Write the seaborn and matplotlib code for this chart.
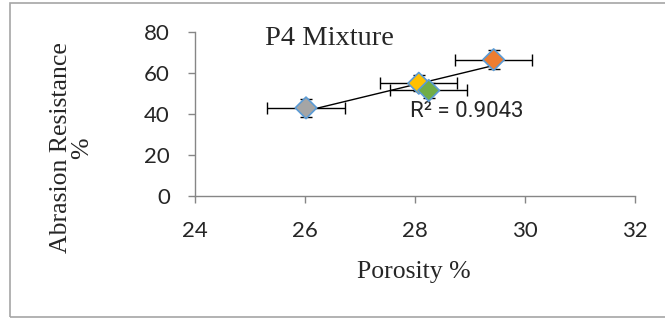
import matplotlib
matplotlib.use("Agg")
import matplotlib.pyplot as plt
import pandas as pd
import seaborn as sns
from matplotlib.patches import Rectangle

# data
porosity = [26.02, 28.07, 28.25, 29.43]
abrasion = [43.0, 55.0, 51.5, 66.5]
porosity_err = [0.7, 0.7, 0.7, 0.7]
abrasion_err = [4.5, 4.0, 3.5, 4.5]
series = ["s1", "s2", "s3", "s4"]
colors = ["#A5A5A5", "#FFC000", "#70AD47", "#ED7D31"]
x_ticks = [24, 26, 28, 30, 32]
y_ticks = [0, 20, 40, 60, 80]
title = "P4 Mixture"
r2_label = "R² = 0.9043"

df = pd.DataFrame({"porosity": porosity, "abrasion": abrasion, "series": series})

sns.set_style("white")
plt.rcParams["font.family"] = ["Lato", "DejaVu Sans"]
serif = ["Liberation Serif", "DejaVu Serif"]

fig = plt.figure(figsize=(6.65, 3.2), dpi=100)
ax = fig.add_axes([0.293, 0.3875, 0.662, 0.5125])

# outer chart border
fig.patches.append(Rectangle((10 / 665, 3 / 320), 1.0, 314 / 320,
                             transform=fig.transFigure, fill=False,
                             edgecolor="#A6A6A6", lw=1.2, zorder=0))

ax.errorbar(porosity, abrasion, xerr=porosity_err, yerr=abrasion_err,
            fmt="none", ecolor="black", elinewidth=1, capsize=4.5,
            capthick=1, zorder=2)

sns.regplot(data=df, x="porosity", y="abrasion", scatter=False, ci=None,
            truncate=True, color="black", line_kws={"lw": 1, "zorder": 3},
            ax=ax)

sns.scatterplot(data=df, x="porosity", y="abrasion", hue="series",
                palette=colors, marker="D", s=120, edgecolor="#5B9BD5",
                linewidth=1.2, legend=False, zorder=4, ax=ax)

ax.set_xlim(24, 32)
ax.set_ylim(0, 80)
ax.set_xticks(x_ticks)
ax.set_yticks(y_ticks)
ax.tick_params(axis="both", labelsize=16, length=5, width=1,
               color="#868686", direction="out",
               bottom=True, left=True)
ax.tick_params(axis="x", pad=13)
ax.tick_params(axis="y", pad=13)
for s in ["top", "right"]:
    ax.spines[s].set_visible(False)
for s in ["left", "bottom"]:
    ax.spines[s].set_color("#868686")
    ax.spines[s].set_linewidth(1)
ax.set_xlabel("")
ax.set_ylabel("")

ax.text(25.27, 77, title, fontsize=20.5, family=serif, va="center")
ax.text(27.91, 41, r2_label, fontsize=16, va="center",
        family=["Roboto", "DejaVu Sans"])

fig.text(414 / 665, 1 - 272 / 320, "Porosity %", fontsize=18.5, family=serif,
         ha="center", va="center")
fig.text(72 / 665, 1 - 148 / 320, "Abrasion Resistance\n%", fontsize=18.5,
         family=serif, rotation=90, ha="center", va="center",
         multialignment="center", linespacing=0.95)

fig.savefig("out.png", dpi=100)
